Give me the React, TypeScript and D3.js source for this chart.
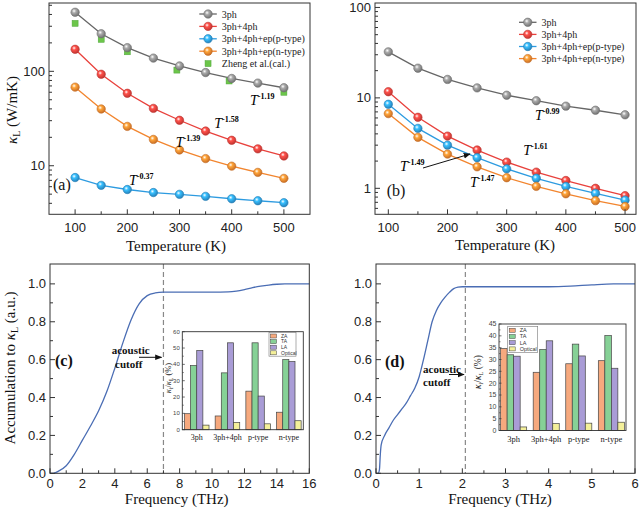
import React from 'react';
import * as d3 from 'd3';

// ---------- data ----------
const temps = [100, 150, 200, 250, 300, 350, 400, 450, 500];
const a3ph = [422, 250, 178, 138, 114, 97, 84, 75, 67];
const a4ph = [171, 93, 58.5, 40.5, 30.3, 23.3, 18.6, 15.1, 12.7];
const aP = [7.5, 6.2, 5.6, 5.2, 4.98, 4.74, 4.47, 4.26, 4.06];
const aN = [68, 39.9, 26.1, 19, 14.7, 11.9, 9.9, 8.5, 7.35];
const zhengT = [100, 150, 200, 295, 395, 500];
const zhengK = [322, 218, 161, 103, 79, 60];

const b3ph = [32.3, 21.3, 16, 12.9, 10.7, 9.3, 8.1, 7.3, 6.5];
const b4ph = [11.7, 6.1, 3.78, 2.65, 1.95, 1.51, 1.22, 1.0, 0.83];
const bP = [8.5, 4.6, 3.0, 2.18, 1.64, 1.29, 1.05, 0.88, 0.74];
const bN = [6.7, 3.66, 2.39, 1.73, 1.31, 1.05, 0.87, 0.73, 0.63];

const seriesNames = ['3ph', '3ph+4ph', '3ph+4ph+ep(p-type)', '3ph+4ph+ep(n-type)'];
const zhengName = 'Zheng et al.(cal.)';

const cFreq = [0, 0.2, 0.5, 1, 1.5, 2, 2.5, 3, 3.5, 4, 4.5, 5, 5.5, 6, 6.5, 7, 8, 9, 10, 11, 11.5, 12, 12.5, 13, 13.5, 14, 14.5, 15, 16];
const cAcc = [0, 0, 0.01, 0.04, 0.1, 0.175, 0.25, 0.33, 0.43, 0.555, 0.69, 0.81, 0.895, 0.938, 0.952, 0.956, 0.957, 0.957, 0.957, 0.958, 0.962, 0.97, 0.98, 0.988, 0.994, 0.998, 1.0, 1.0, 1.0];

const dFreq = [0, 0.05, 0.08, 0.1, 0.12, 0.2, 0.3, 0.4, 0.5, 0.6, 0.7, 0.8, 0.9, 1.0, 1.1, 1.2, 1.3, 1.4, 1.5, 1.6, 1.7, 1.8, 1.9, 2.0, 3, 4, 4.5, 5, 5.5, 6];
const dAcc = [0, 0, 0.02, 0.1, 0.15, 0.2, 0.24, 0.28, 0.31, 0.34, 0.37, 0.41, 0.45, 0.51, 0.6, 0.7, 0.8, 0.86, 0.9, 0.93, 0.955, 0.975, 0.983, 0.985, 0.985, 0.985, 0.988, 0.995, 1.0, 1.0];

const cats = ['3ph', '3ph+4ph', 'p-type', 'n-type'];
const modes = ['ZA', 'TA', 'LA', 'Optical'];
const cZA = [9.8, 8.4, 23.6, 10.7];
const cTA = [39.3, 34.8, 53.2, 42.9];
const cLA = [48.5, 53.2, 20.6, 41.7];
const cOpt = [2.8, 4.4, 3.6, 5.5];
const dZA = [34.6, 24.6, 28.2, 29.5];
const dTA = [32, 34.2, 36.5, 40.1];
const dLA = [31.4, 37.9, 31.5, 26.3];
const dOpt = [1.5, 2.9, 3.1, 3.5];

// ---------- styles ----------
const serif = "'Liberation Serif','Times New Roman',serif";
const sans = "'Liberation Sans',Arial,sans-serif";
const lineColors = ['#666666', '#E8413C', '#2D9BE0', '#F2852E'];
const ballColors = ['#8a8a8a', '#E8413C', '#2D9BE0', '#F2852E'];
const barColors = ['#F6A97E', '#86D196', '#A99CD6', '#F4F09A'];
const frameColor = '#333';

function Frame({ xs, ys, xMajor, xMinor, yMajor, yMinor, xFmt, yFmt, xOff }: any) {
  const [x0, x1] = xs.range();
  const [yb, yt] = ys.range();
  return (
    <g>
      <rect x={x0} y={yt} width={x1 - x0} height={yb - yt} fill="none" stroke={frameColor} strokeWidth={1} />
      {xMajor.map((v: number) => (
        <g key={'xm' + v}>
          <line x1={xs(v)} x2={xs(v)} y1={yb} y2={yb - 5} stroke={frameColor} />
          <text x={xs(v)} y={yb + xOff} textAnchor="middle" fontFamily={sans} fontSize={13} fill="#222">{xFmt(v)}</text>
        </g>
      ))}
      {xMinor.map((v: number) => (
        <line key={'xn' + v} x1={xs(v)} x2={xs(v)} y1={yb} y2={yb - 3} stroke={frameColor} />
      ))}
      {yMajor.map((v: number) => (
        <g key={'ym' + v}>
          <line x1={x0} x2={x0 + 5} y1={ys(v)} y2={ys(v)} stroke={frameColor} />
          <text x={x0 - 4} y={ys(v) + 4.5} textAnchor="end" fontFamily={sans} fontSize={13} fill="#222">{yFmt(v)}</text>
        </g>
      ))}
      {yMinor.map((v: number) => (
        <line key={'yn' + v} x1={x0} x2={x0 + 3} y1={ys(v)} y2={ys(v)} stroke={frameColor} />
      ))}
    </g>
  );
}

function logMinor(lo: number, hi: number) {
  const out: number[] = [];
  for (let e = -2; e <= 3; e++) {
    for (let m = 2; m <= 9; m++) {
      const v = m * Math.pow(10, e);
      if (v > lo && v < hi) out.push(v);
    }
  }
  return out;
}

function PowerLabel({ x, y, exp }: any) {
  return (
    <text x={x} y={y} fontFamily={serif} fontSize={14}>
      <tspan fontStyle="italic">T</tspan>
      <tspan fontSize={8} fontWeight="bold" dy={-6}>{exp}</tspan>
    </text>
  );
}

function Ball({ cx, cy, i }: any) {
  return <circle cx={cx} cy={cy} r={4.2} fill={`url(#ball${i})`} stroke={d3.color(ballColors[i])!.darker(0.6).toString()} strokeWidth={0.6} />;
}

function TempPanel({ xs, ys, data, showZheng, legendX, legendY, legendStep }: any) {
  const line = d3.line<number>().x((_, j) => xs(temps[j])).y((d) => ys(d));
  const lo = ys.domain()[0], hi = ys.domain()[1];
  const majors = [0.1, 1, 10, 100, 1000].filter((v) => v >= lo && v <= hi);
  return (
    <g>
      {data.map((vals: number[], i: number) => (
        <path key={'l' + i} d={line(vals) || ''} fill="none" stroke={lineColors[i]} strokeWidth={1.3} />
      ))}
      {showZheng && zhengT.map((t, j) => (
        <rect key={'z' + j} x={xs(t) - 3} y={ys(zhengK[j]) - 3} width={6} height={6} fill="#6CC64A" stroke="#4fa53a" strokeWidth={0.5} />
      ))}
      {data.map((vals: number[], i: number) => (
        <g key={'m' + i}>
          {vals.map((v, j) => <Ball key={j} cx={xs(temps[j])} cy={ys(v)} i={i} />)}
        </g>
      ))}
      <Frame xs={xs} ys={ys} xMajor={[100, 200, 300, 400, 500]} xMinor={[150, 250, 350, 450]}
        yMajor={majors} yMinor={logMinor(lo, hi)} xFmt={(v: number) => String(v)} yFmt={(v: number) => String(v)} xOff={18} />
      {seriesNames.map((n, i) => {
        const y = legendY + i * legendStep;
        return (
          <g key={'lg' + i}>
            <line x1={legendX} x2={legendX + 17.5} y1={y} y2={y} stroke={lineColors[i]} strokeWidth={1.3} />
            <Ball cx={legendX + 8.75} cy={y} i={i} />
            <text x={legendX + 22.5} y={y + 3.5} fontFamily={serif} fontSize={10} fill="#222">{n}</text>
          </g>
        );
      })}
      {showZheng && (
        <g>
          <rect x={legendX + 8.75 - 3} y={legendY + 4 * legendStep - 3} width={6} height={6} fill="#6CC64A" stroke="#4fa53a" strokeWidth={0.5} />
          <text x={legendX + 22.5} y={legendY + 4 * legendStep + 3.5} fontFamily={serif} fontSize={10} fill="#222">{zhengName}</text>
        </g>
      )}
    </g>
  );
}

function Inset({ x0, x1, yt, yb, yMax, yStep, values, fs, catFs, catY, legX, legY, legStep, legW, labelX, labelY, tickFs, po, labelFs }: any) {
  const ys = d3.scaleLinear().domain([0, yMax]).range([yb, yt]);
  const xg = d3.scaleBand<string>().domain(cats).range([x0, x1]).paddingInner(0.2).paddingOuter(po);
  const xm = d3.scaleBand<string>().domain(modes).range([0, xg.bandwidth()]);
  const ticks = d3.range(0, yMax + 0.001, yStep);
  const minors = d3.range(yStep / 2, yMax, yStep);
  const sub = labelFs * 0.65;
  return (
    <g>
      <rect x={x0} y={yt} width={x1 - x0} height={yb - yt} fill="#fff" stroke="none" />
      {cats.map((c, ci) => (
        <g key={c}>
          {modes.map((m, mi) => {
            const v = values[mi][ci];
            return <rect key={m} x={(xg(c) as number) + (xm(m) as number)} y={ys(v)} width={xm.bandwidth()} height={ys(0) - ys(v)}
              fill={barColors[mi]} stroke="#444" strokeWidth={0.7} />;
          })}
          <text x={(xg(c) as number) + xg.bandwidth() / 2} y={catY} textAnchor="middle" fontFamily={serif} fontSize={catFs} fill="#222">{c}</text>
        </g>
      ))}
      <rect x={x0} y={yt} width={x1 - x0} height={yb - yt} fill="none" stroke={frameColor} strokeWidth={0.9} />
      {ticks.map((t: number) => (
        <g key={'t' + t}>
          <line x1={x0} x2={x0 + 2.5} y1={ys(t)} y2={ys(t)} stroke={frameColor} strokeWidth={0.7} />
          <text x={x0 - 2.5} y={ys(t) + tickFs * 0.35} textAnchor="end" fontFamily={sans} fontSize={tickFs} fill="#444">{t}</text>
        </g>
      ))}
      {minors.map((t: number) => (
        <line key={'n' + t} x1={x0} x2={x0 + 1.5} y1={ys(t)} y2={ys(t)} stroke={frameColor} strokeWidth={0.6} />
      ))}
      <rect x={legX} y={legY - legStep * 0.6} width={legW} height={legStep * 4.2} fill="#fff" stroke="#777" strokeWidth={0.6} />
      {modes.map((m, mi) => (
        <g key={'lg' + m}>
          <rect x={legX + 1.5} y={legY + mi * legStep - 2} width={6} height={4} fill={barColors[mi]} stroke="#444" strokeWidth={0.5} />
          <text x={legX + 12} y={legY + mi * legStep + fs * 0.35} fontFamily={sans} fontSize={fs} fill="#333">{m}</text>
        </g>
      ))}
      <text transform={`translate(${labelX},${labelY}) rotate(-90)`} textAnchor="middle" fontFamily={serif} fontSize={labelFs} fill="#222">
        <tspan fontStyle="italic">κ</tspan><tspan fontSize={sub} dy={2}>i</tspan><tspan dy={-2}>/</tspan>
        <tspan fontStyle="italic">κ</tspan><tspan fontSize={sub} dy={2}>L</tspan><tspan dy={-2}> (%)</tspan>
      </text>
    </g>
  );
}

function AccPanel({ xs, ys, fx, fy, cutoff, xMajor, xMinor }: any) {
  const line = d3.line<number>().x((_, j) => xs(fx[j])).y((d) => ys(d)).curve(d3.curveMonotoneX);
  const [yb, yt] = ys.range();
  return (
    <g>
      <line x1={xs(cutoff)} x2={xs(cutoff)} y1={yt} y2={yb} stroke="#888" strokeWidth={1.2} strokeDasharray="5,3" />
      <path d={line(fy) || ''} fill="none" stroke="#4a6db4" strokeWidth={1.3} />
      <Frame xs={xs} ys={ys} xMajor={xMajor} xMinor={xMinor}
        yMajor={[0, 0.2, 0.4, 0.6, 0.8, 1.0]} yMinor={[0.1, 0.3, 0.5, 0.7, 0.9]}
        xFmt={(v: number) => String(v)} yFmt={(v: number) => v.toFixed(1)} xOff={15} />
    </g>
  );
}

export default function App() {
  const ax = d3.scaleLinear().domain([50, 550]).range([49, 310]);
  const ay = d3.scaleLog().domain([3.06, 529]).range([214.3, 3]);
  const bx = d3.scaleLinear().domain([77.5, 518.5]).range([375, 636]);
  const by = d3.scaleLog().domain([0.516, 112]).range([214.3, 3]);
  const cx = d3.scaleLinear().domain([0, 16]).range([50, 309.3]);
  const cy = d3.scaleLinear().domain([0, 1.105]).range([473.3, 264]);
  const dx = d3.scaleLinear().domain([0, 6]).range([376, 635]);
  const dy = d3.scaleLinear().domain([0, 1.105]).range([473.3, 264]);

  return (
    <div style={{ position: 'absolute', left: 0, top: 0 }}>
      <svg width={640} height={511} style={{ display: 'block', background: '#fff' }}>
        <defs>
          {ballColors.map((c, i) => (
            <radialGradient key={i} id={`ball${i}`} cx="38%" cy="35%" r="65%">
              <stop offset="0%" stopColor="#ffffff" />
              <stop offset="35%" stopColor={d3.color(c)!.brighter(0.6).toString()} />
              <stop offset="100%" stopColor={d3.color(c)!.darker(0.5).toString()} />
            </radialGradient>
          ))}
          <marker id="arrowHead" viewBox="0 0 10 10" refX="9" refY="5" markerWidth="7" markerHeight="7" orient="auto-start-reverse" markerUnits="userSpaceOnUse">
            <path d="M0,1 L10,5 L0,9 Z" fill="#111" />
          </marker>
        </defs>

        {/* Panel (a) */}
        <TempPanel xs={ax} ys={ay} data={[a3ph, a4ph, aP, aN]} showZheng legendX={199.3} legendY={14} legendStep={12.4} />
        <PowerLabel x={250} y={105} exp="-1.19" />
        <PowerLabel x={214.3} y={128.3} exp="-1.58" />
        <PowerLabel x={175.7} y={146.7} exp="-1.39" />
        <PowerLabel x={129} y={185} exp="-0.37" />
        <text x={53} y={190} fontFamily={serif} fontSize={16} fill="#111">(a)</text>
        <text x={176} y={251} textAnchor="middle" fontFamily={serif} fontSize={15} fill="#111">Temperature (K)</text>
        <text transform="translate(17,110) rotate(-90)" textAnchor="middle" fontFamily={serif} fontSize={15} fill="#111">
          <tspan fontStyle="italic">κ</tspan><tspan fontSize={10} dy={3}>L</tspan><tspan dy={-3}> (W/mK)</tspan>
        </text>

        {/* Panel (b) */}
        <TempPanel xs={bx} ys={by} data={[b3ph, b4ph, bP, bN]} showZheng={false} legendX={519} legendY={22.3} legendStep={12.1} />
        <PowerLabel x={535} y={120} exp="-0.99" />
        <PowerLabel x={523.3} y={155} exp="-1.61" />
        <PowerLabel x={400} y={170.7} exp="-1.49" />
        <PowerLabel x={470} y={187.3} exp="-1.47" />
        <line x1={423} y1={168} x2={470} y2={154} stroke="#111" strokeWidth={1} markerEnd="url(#arrowHead)" />
        <text x={386.7} y={196} fontFamily={serif} fontSize={16} fill="#111">(b)</text>
        <text x={505} y={250} textAnchor="middle" fontFamily={serif} fontSize={15} fill="#111">Temperature (K)</text>

        {/* Panel (c) */}
        <AccPanel xs={cx} ys={cy} fx={cFreq} fy={cAcc} cutoff={7} xMajor={d3.range(0, 17, 2)} xMinor={d3.range(1, 16, 2)} />
        <text x={55} y={365.5} fontFamily={serif} fontSize={16} fontWeight="bold" fill="#111">(c)</text>
        <text x={111.7} y={354} fontFamily={serif} fontSize={11} fontWeight="bold" fill="#111">acoustic</text>
        <text x={115} y={368} fontFamily={serif} fontSize={11} fontWeight="bold" fill="#111">cutoff</text>
        <line x1={139} y1={357.3} x2={161.5} y2={357.3} stroke="#111" strokeWidth={1} markerEnd="url(#arrowHead)" />
        <text x={176.7} y={504} textAnchor="middle" fontFamily={serif} fontSize={15} fill="#111">Frequency (THz)</text>
        <text transform="translate(15,368) rotate(-90)" textAnchor="middle" fontFamily={serif} fontSize={15} fill="#111">
          Accumulation to <tspan fontStyle="italic">κ</tspan><tspan fontSize={10} dy={3}>L</tspan><tspan dy={-3}> (a.u.)</tspan>
        </text>
        <Inset x0={182.3} x1={303.3} yt={331.7} yb={429.7} yMax={60} yStep={10}
          values={[cZA, cTA, cLA, cOpt]} fs={5} catFs={8} catY={439.5} legX={269} legY={336} legStep={5.6} legW={27}
          labelX={171} labelY={378} tickFs={6} po={0.07} labelFs={8.5} />

        {/* Panel (d) */}
        <AccPanel xs={dx} ys={dy} fx={dFreq} fy={dAcc} cutoff={2.07} xMajor={d3.range(0, 7, 1)} xMinor={d3.range(0.5, 6, 1)} />
        <text x={385} y={367} fontFamily={serif} fontSize={16} fontWeight="bold" fill="#111">(d)</text>
        <text x={423} y={373} fontFamily={serif} fontSize={11} fontWeight="bold" fill="#111">acoustic</text>
        <text x={423} y={386} fontFamily={serif} fontSize={11} fontWeight="bold" fill="#111">cutoff</text>
        <line x1={449} y1={374.5} x2={464} y2={374.5} stroke="#111" strokeWidth={1} markerEnd="url(#arrowHead)" />
        <text x={500} y={504} textAnchor="middle" fontFamily={serif} fontSize={15} fill="#111">Frequency (THz)</text>
        <Inset x0={499} x1={626} yt={324} yb={430.5} yMax={45} yStep={5}
          values={[dZA, dTA, dLA, dOpt]} fs={5.5} catFs={8.5} catY={442} legX={507.7} legY={330.3} legStep={6.2} legW={30}
          labelX={481} labelY={372} tickFs={7} po={0.05} labelFs={9.5} />
      </svg>
    </div>
  );
}
